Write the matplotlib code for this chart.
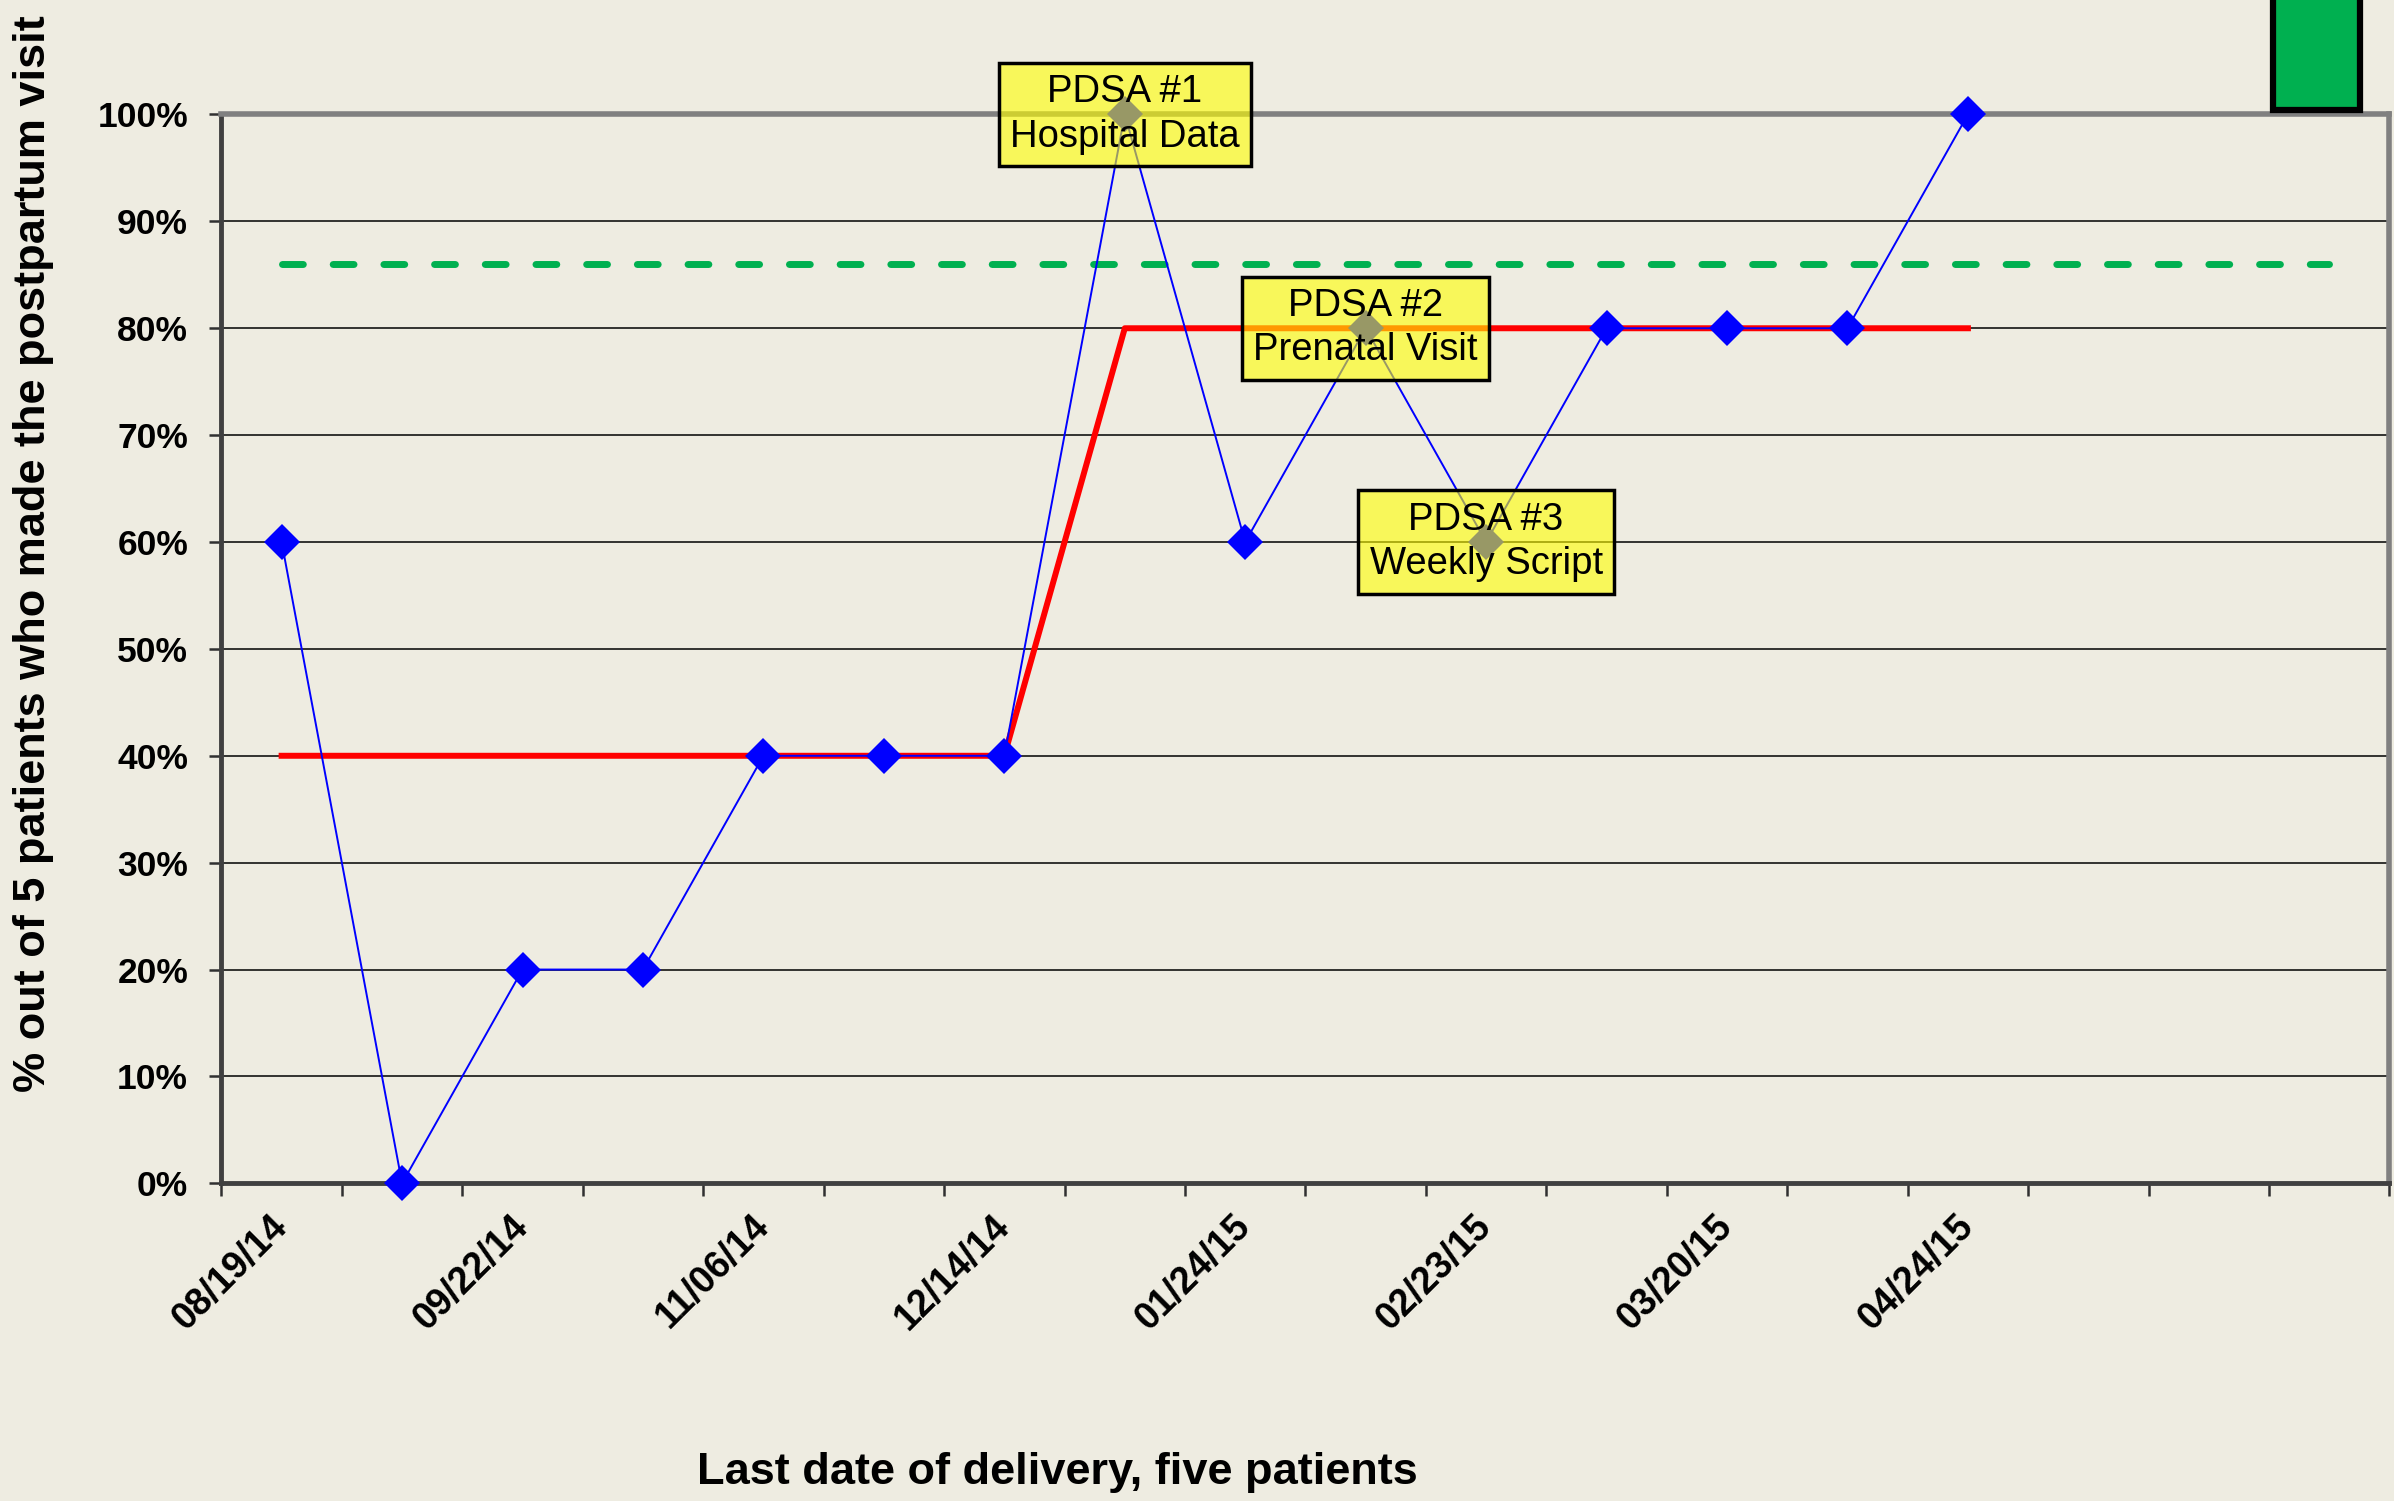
import matplotlib
matplotlib.use("Agg")
import matplotlib.pyplot as plt
from matplotlib.patches import Rectangle

# ---- data ----
n_slots = 18
values = [60, 0, 20, 20, 40, 40, 40, 100, 60, 80, 60, 80, 80, 80, 100]
median = [40, 40, 40, 40, 40, 40, 40, 80, 80, 80, 80, 80, 80, 80, 80]
goal = 86
goal_span = [0, 17]
label_idx = [0, 2, 4, 6, 8, 10, 12, 14]
tick_labels = ['08/19/14', '09/22/14', '11/06/14', '12/14/14',
               '01/24/15', '02/23/15', '03/20/15', '04/24/15']
yticks = [0, 10, 20, 30, 40, 50, 60, 70, 80, 90, 100]
annot_idx = [7, 9, 10]
annot_text = ['PDSA #1\nHospital Data', 'PDSA #2\nPrenatal Visit', 'PDSA #3\nWeekly Script']

BG = '#EEECE1'
plt.rcParams['font.family'] = ['Liberation Sans', 'DejaVu Sans']

fig = plt.figure(figsize=(23.94, 15.01), dpi=100, facecolor=BG)
ax = fig.add_axes([0.09248, 0.21166, 0.90564, 0.71206], facecolor=BG)

x = list(range(len(values)))
ax.plot(goal_span, [goal, goal], color='#00B050', lw=5, dashes=(3, 4.3),
        dash_capstyle='round', zorder=2)
ax.plot(x, median, color='#FF0000', lw=4.3, zorder=3)
ax.plot(x, values, color='#0000FF', lw=1.4, marker='D', ms=18,
        markeredgewidth=0, zorder=5, clip_on=False)

for i, t in zip(annot_idx, annot_text):
    ax.text(i, values[i], t, ha='center', va='center', fontsize=27.5,
            linespacing=1.3, zorder=6,
            bbox=dict(boxstyle='square,pad=0.3', facecolor=(1, 1, 0, 0.6),
                      edgecolor='black', lw=2.5))

ax.set_xlim(-0.5, n_slots - 0.5)
ax.set_ylim(0, 100)
ax.set_yticks(yticks)
ax.set_yticklabels([f'{v}%' for v in yticks], fontsize=25.5, fontweight='bold')
ax.yaxis.grid(True, color='black', lw=1.1, zorder=0)
ax.set_axisbelow(True)

ax.set_xticks([b - 0.5 for b in range(n_slots + 1)])
ax.set_xticklabels([])
ax.set_xticks(label_idx, minor=True)
ax.set_xticklabels(tick_labels, minor=True, rotation=45, ha='right',
                   va='center', rotation_mode='anchor', fontsize=27,
                   fontweight='bold')
ax.tick_params(axis='x', which='minor', length=0, pad=27)
ax.tick_params(axis='both', which='major', length=9, width=1.8,
               direction='out', color='#303030')
ax.tick_params(axis='y', pad=15)

for s in ['top', 'right']:
    ax.spines[s].set_color('#808080')
    ax.spines[s].set_linewidth(4)
for s in ['left', 'bottom']:
    ax.spines[s].set_color('#404040')
    ax.spines[s].set_linewidth(3.5)

fig.text(0.0142, 0.631, '% out of 5 patients who made the postpartum visit',
         rotation=90, ha='center', va='center', fontsize=32.5, fontweight='bold')
fig.text(0.4415, 0.0187, 'Last date of delivery, five patients',
         ha='center', va='center', fontsize=32.5, fontweight='bold')

fig.patches.append(Rectangle((0.9495, 0.927), 0.0365, 0.08,
                             transform=fig.transFigure, facecolor='#00B050',
                             edgecolor='black', lw=4.5, zorder=10))

fig.savefig('out.png', dpi=100, facecolor=BG)
